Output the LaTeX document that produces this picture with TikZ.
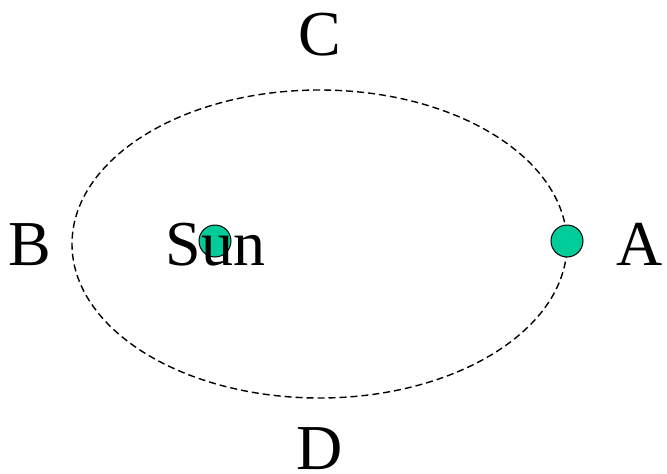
\documentclass[tikz,border=0pt]{standalone}
\usepackage{fontspec}
\setmainfont{Liberation Serif}
\usetikzlibrary{positioning}
\definecolor{PlanetGreen}{HTML}{00CC99}

\begin{document}
\begin{tikzpicture}[
  x=1pt,y=-1pt,
  body/.style={circle,draw=black,fill=PlanetGreen,minimum size=32pt,inner sep=0pt,line width=1pt},
  lbl/.style={font=\fontsize{64}{76}\selectfont,inner sep=0pt,anchor=base},
  orbit/.style={draw=black,line width=1.4pt,dash pattern=on 7pt off 4pt}
]
\useasboundingbox (0,0) rectangle (667,474);
\draw[orbit] (319.5,244) ellipse [x radius=247.5pt,y radius=154pt];
\node[body] (sun) at (215,241) {};
\node[body] (planet) at (567,241) {};
\node[lbl] (sunlbl) at (215.5,265) {Sun};
\node[lbl] (a) at (640,265) {A};
\node[lbl] (b) at (30,265) {B};
\node[lbl] (c) at (320,55) {C};
\node[lbl] (d) at (320,469) {D};
\end{tikzpicture}
\end{document}
